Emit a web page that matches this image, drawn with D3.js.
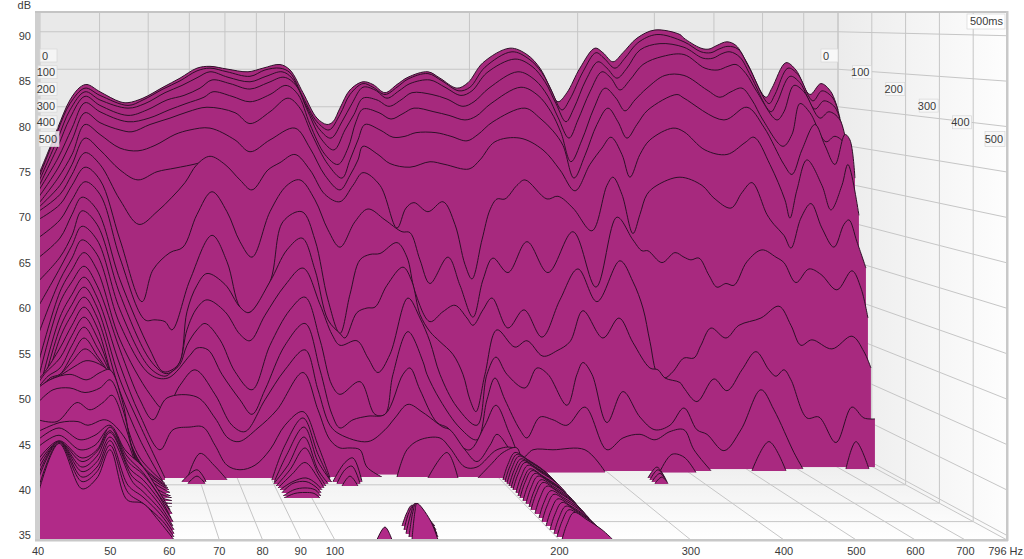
<!DOCTYPE html>
<html><head><meta charset="utf-8">
<script src="https://cdnjs.cloudflare.com/ajax/libs/d3/7.8.5/d3.min.js"></script>
<style>html,body{margin:0;background:#fff}svg{display:block}text{font-family:"Liberation Sans",Arial,sans-serif;font-size:11px;fill:#3a3a3a}</style>
</head><body><svg id="c" width="1024" height="559"></svg>
<script>
const freqTicks=[40,50,60,70,80,90,100,200,300,400,500,600,700,796];
const freqLabels=["40","50","60","70","80","90","100","200","300","400","500","600","700","796 Hz"];
const dbTicks=[90,85,80,75,70,65,60,55,50,45,40,35];
const timeTicks=[0,100,200,300,400,500];
// each series: flat list of (frequency bin, level dB)
const s0=[0,75,2.4,78.2,4,80.4,6.4,83.4,8.4,84.8,9.8,85.1,12.4,84.3,16.4,83.2,18,83.1,21,83.6,25,84.8,28.4,85.8,31.8,86.9,34.4,87.1,37.8,86.8,42,86.5,45,86.9,48.4,87.3,50.4,86.7,53,84.2,55.8,81.4,57.8,80.7,59,81,60.4,82.5,62.4,84.5,65,85.4,67,85.1,69.4,84.2,71.8,85.1,74,85.9,78,86.5,80.4,85.8,83.8,84.7,86,85.3,89,87.5,94.4,89.1,97.8,88.4,100.4,86.9,102.4,84.8,104,83.2,105.8,84.2,108.4,86.9,111.4,89.1,113,88.6,115,87.6,117,88.6,119.8,90.2,123.4,91.1,128.4,90.6,129.2,90.2,132.6,89.1,134.2,89,135.8,89.4,137.8,89.8,139.6,89.4,141.8,87.5,145.6,83.7,146.8,84.7,149.6,87.5,151.6,86.7,154.4,84,156.6,85.2,158.6,84.3,160,82.3];
const s1=[0,74.6,4,80.1,6.4,83,9.4,84.7,12.4,83.9,18,82.8,21,83.4,25,84.6,28.4,85.5,31.8,86.6,34.4,86.9,37.8,86.5,42.4,86,45.4,86.7,48.4,86.9,50.4,86.4,53,83.7,55.8,81,58.2,80.1,60.4,81.8,62.4,84,65,85.2,67,84.8,69.4,84,71.8,84.8,74,85.7,78,86.3,80.8,85.5,84.2,84.4,86.4,84.8,89.4,87,94.8,88.7,98.2,87.9,100.8,86.4,102.8,84.3,104.8,82.3,106.4,83.5,109,86.5,111.6,88.6,113.2,88,115.4,86.9,117.4,88,120,89.7,123.8,90.6,129.2,89.8,132.6,88.7,134.6,88.6,136.2,89,138,89.3,140,89,142.2,87,146.2,83,147.4,84,150,86.9,152,86.2,155,83.3,156.8,84.4,159,83.6,160.4,81.4];
const s2=[0,74.2,4,79.2,6.4,82.3,9.4,84.3,12.4,83.4,18,82.5,21.4,83,25.4,84.2,28.8,85,32,85.9,34.4,86.5,38,85.9,42.4,85.4,45.6,86,48.8,86.5,50.8,85.8,53.4,83,56.4,80.1,58.6,79.2,60.8,81,62.8,83,65,84.8,67.4,84.5,69.8,83.6,72.2,84.4,74.4,85.2,78.4,85.6,81.4,84.8,84.6,83.9,86.8,84.4,89.8,86.4,95.4,87.9,98.8,87.1,101.4,85.4,103.6,83,105.6,81,107.2,82.5,109.6,85.6,112,87.6,113.8,86.9,115.8,85.8,117.8,86.9,120.4,88.9,124.4,89.6,129.2,89.2,133,88,135,88,136.8,88.5,138.4,88.7,140.4,88.1,142.6,86,146.6,82.1,147.8,83.1,150.4,86,152.4,85.3,155.4,82.4,157.2,83.3,159.4,82.6,161,80.1];
const s3=[0,73.7,4,78.3,6.4,81.4,9.4,83.8,12.4,82.8,18,81.7,21.8,82.3,25.8,83.4,29.2,83.9,32.4,84.7,34.8,85.6,38.4,85.2,42.4,84.6,46,85.3,49.2,85.9,51.6,85,54,82.1,56.8,79,59.2,77.9,61.4,80.1,63.2,81.8,65,83.6,67.8,83.4,70.2,82.7,72.6,83.4,74.8,84.2,78.8,84,81.8,83.5,85,82.7,87.2,83.2,90.2,84.7,96,86.5,99.4,85.6,102,83.8,104,81.5,106.2,79.2,108,81.2,110.4,84.3,112.8,86.5,114.6,85.8,116.4,84.5,118.4,85.6,121,87.3,125,88.2,129.2,88.4,133.4,86.9,136,86.7,138,87.1,139.6,87.3,141.6,86.3,143.8,84.3,147.8,81.2,149.2,82.1,151.2,85,153.2,84.3,156.4,81.4,158.2,82.1,160.4,81.2,162,77.4];
const s4=[0,73.3,4,77,6.8,80.3,9.4,83.1,12.4,82.1,18,81,22.2,81.4,26.2,82.3,29.6,83,33.2,83.7,35,84.3,38.8,83.8,42.4,83.2,46.4,84,49.6,85,52,84,54.4,80.7,57.4,77.4,60,76.3,62,78.1,63.6,81,65,82.4,68.2,82,70.6,81.3,73,81.9,75.2,82.5,79.2,82.1,82.2,81.7,85.4,81.2,87.6,81.6,90.6,83,96.6,84.8,100,83.9,102.6,82.1,104.6,79.8,106.6,76.6,108.8,79,111.2,82.5,113.4,84.7,115.6,83.6,117.4,82.2,119.4,83.4,121.8,84.7,125.4,86.1,129.2,86.1,133.8,84.5,136.4,83.7,138.6,84.3,140.8,84.7,142.8,83.4,145,81.2,149,78.3,150.8,79.6,152.4,83,154.4,82,157.6,78.8,159.4,79.4,161.6,78.4,162.8,75.5];
const s5=[0,72.6,4,75.9,6.8,79,9.4,82,12.4,80.9,16.4,80.1,18.8,79.9,22.4,80.7,26.4,81.4,30,82.1,33.8,82.6,39.4,82,42.4,80.8,46.4,82.1,50,83.6,52.4,82.5,54.8,79.6,58,76.3,60.8,74.8,62.4,76.8,64,79,65.4,80.7,68.4,80.1,71,79.3,73.4,79.4,75.6,79.8,79.6,79.8,82.6,79.4,85.8,78.9,88,79.6,91,81,97.4,82.5,100.4,81.4,103,80,105,78.4,107.2,74.8,109.4,77.3,111.8,80.7,114,82.5,116,81,117.8,79.2,119.8,80.7,122,82.3,127.8,84,129.2,83.6,137.2,81.2,141.8,82.6,145.2,80.4,149.2,76.3,150.8,75.2,152.8,77.9,155.4,80.7,157.4,78.4,159.4,76.3,161.4,79.6,162.4,79,163.4,74.8];
const s6=[0,71.9,4,74.8,6.8,77.4,9.4,80.7,12.4,79.6,16.4,78.1,20,77.8,23.4,78.4,27.4,79.6,30.4,80.1,34.4,80.3,39.4,79,42.4,77.7,46.4,79,51.4,80.3,54.4,78.1,57.4,75.1,60.4,73.5,62.4,75.1,64,76.8,65,78.3,68,77.4,70.4,76.4,74.4,76,78.4,76.6,81.4,76.3,86.2,75.8,88.4,76.8,91.4,78.8,96.4,79.2,101,77.9,104.4,75.7,107.4,73.4,110.4,76.3,112.8,78.1,114.6,79.3,116.8,77.4,118.4,74.9,120.4,77.4,122.4,79,127,80.3,129.2,79.9,133.4,77.9,137.8,77.4,141.4,78.7,143.2,79.3,146.4,76.3,149.4,72.4,150.4,70.4,151.8,73.5,153.8,76.8,156.8,74,158.6,71.3,160.8,74,162,76.3,164.2,70.7];
const s7=[0,71.5,4.4,74,6.8,76.3,9.4,79.2,12.4,77.9,16.4,75.7,20,74.6,23.8,75.5,27.4,75.9,31.8,76.4,34,76.8];
const s8=[0,71.1,4.4,73,6.8,75.2,9.4,77.6,12.4,76.3,16.4,72.4,20.2,69.7,23.8,71.1,26.8,72.7,29.4,74.3,31.8,76.3,34.4,77.2,37.4,76.3,40.4,74.6,42.8,73.5,46,75.7,48.4,76.5,51.4,77.4,54.4,75.7,57.4,73,60.4,72.2,63,74,65,75.4,68.4,74,71.8,69.3,73.6,71.5,75.2,72.1,78,71.1,81,72.2,83.4,69.7,85.4,65.3,86.8,63.7,88.8,68,90.4,71.3,91.8,72.5,93.4,72.5,95.8,74,97.4,74.6,101.8,72.5,104,72.8,107,71.5,110.8,69,113.8,74,115,74.9,116.8,73,119,68.7,120.4,70.8,121.8,73,123.8,74,128.4,74.9,132.8,74,135.2,72.6,138.6,71.5,140.8,73.2,142.8,74.3,145.8,70.8,147.2,69.7,149.2,68.5,150.6,67.1,152.6,70.4,154.6,72,156.8,69.3,159.2,67.2,161.2,69.7,162.2,70.2,163.8,67.8,165.6,64.9];
const s9=[0,70.2,4.4,71.9,6.8,74,9.4,76,12.4,74.6,16.4,68,20.8,61.2,23,64.7,26.4,66.6,29,67.2,31.8,70.8,34.8,73.3,37.8,71.1,40.4,67.8,42.8,66.1,46.4,71.1,49.8,74,52.4,74.6,55.4,72.4,58,69.1,60.4,67.2,63.4,70,66,71.4,69.4,70.2,72.8,68.9,74.4,68.8,76.4,65.8,78.4,63.2,82,66.1,84.4,63,87,59.5,89,63.6,91,66,94,64.4,97.8,67.8,102,64.4,107,68.9,111.6,62.8,115.8,70.5,119,68,120.8,66.8,122,66.8,124.8,65.5,127.4,66.6,129.2,66.1,130.6,65.8,132.2,66,134.2,64.1,135.8,62.8,137.6,63.2,139.2,63,141.8,65.6,144.8,66.9,147.6,66.1,149.2,65.5,151.6,63.3,154.2,64.8,156.6,64.2,159.8,62.5,162.8,64.6,164.6,62.7,166,59.4];
const s10=[0,68.2,4.4,70.2,6.8,72.4,9.4,74.4,12.4,73,16.4,66,21.4,59.2,23.4,59.2,25.4,59,26.8,58.1,30.4,63.6,34.8,68.5,37.8,65.6,40.4,60.6,42.2,60,46.4,63.4,49,70,52.8,71.1,55.4,68,58,61.4,60.4,57.7,62.4,62,64.4,65.8,66.4,66.4,68.4,66.5,71.8,67.7,73.8,66.1,75.4,62.3,78.4,59,81,60.1,83.4,60.8,85.8,59.4,87,58.6,89,60.3,90.8,61.6,94,58.3,97.2,60.3,100.8,57.3,104.4,61.4,108,64.8,111.8,61.2,116.4,65.7,119,63.4,121,60.5,122.4,56.8,124,53.1,125.4,52.8,127,53.5,129.2,55,131.2,55,132.6,56.4,134.6,58.3,137.6,57.2,140.2,58.6,144.6,59.4,148.2,60.7,150.6,58.6,152.6,56.4,154.8,57,158.8,56,162.8,57.4,165.2,55.7,166.6,53.9];
const s11=[0,66,4.4,68.2,6.8,70.8,8.8,72.7,11.8,71.3,16.4,63.6,22.4,55.9,25,53.5,26.8,53.7,28.4,54.6,29.8,60.1,31.8,63,33.8,64.3,37.4,63.1,40.4,60.6,42.2,60,46.4,63.4,49.8,66.9,52.8,68.2,55.4,64.7,58,59.2,60.4,57.7,61.4,57.2,63.8,60,65.8,60.5,67.4,60.6,69.8,63,73,65,74.8,63.4,76.4,59.8,78.4,57.9,80.4,56.8,83,55.4,85,53.2,86.4,50.4,87.6,49.1,89.4,53.2,91.8,58.1,95.4,56.2,97.8,56.9,101,55.2,103.8,55.8,106.4,56.8,109,60.2,113,57.2,116.2,59.4,119,56.7,122.4,53.9,124,53.7,125.4,52.8,128.4,52.3,129.2,51.7,131.8,50.2,135.2,52.7,137.8,51.4,140.8,53.7,143.6,55.7,146.2,53.7,147.6,53,149.2,53.7,150.6,52.6,153.8,48.4,156.2,48.5,159.6,45.7,162.8,49.6,165.2,48.4,167.4,48.3];
const s12a=[0,63.4,4.4,66.1,6.8,68.5,8.8,71.2,11.8,69.7,16.4,62,22.4,54.8,25.4,53.3,26.8,53.5,28.4,54.6,29.8,58.1,31.8,60.5,33.8,61.4,37.4,60.1,40.4,57.6,42.4,56.9,45.4,59.7,49.4,63,53,64.9,56.4,60.9,58.8,57.6,60.4,56.4,63.8,56.9,66,55,68,53.4,70.4,55.4,74,61.6,76.4,59.4,78.4,56.8,80.4,53.2,83.8,49.6,87.8,47.6,89.8,53.2,91.6,55.1,93.8,53.2,97.4,51.7,99.8,53.9,102,53.2,105.8,49.8,107.8,53.2,109,54.5,110.8,53.2,113.8,47.9,117,51.3,120.4,48.5,123.4,47.1,126.4,47.6,129.2,49.5,131.8,47.1,133.8,46.6,137.2,44.8,140.6,47.1,144.6,51.5,147.2,49.3,151.2,44.6,153,42.8];
const s12b=[161.6,42.8,163.6,45.8,166.2,42.8];
const s13a=[0,60.6,4.4,64.9,6.8,67.4,8.8,69.5,11.8,68,16.4,60.3,22.4,53.9,25.4,53,26.8,53.5,28.4,54.3,29.8,56.4,31.8,58.1,33.4,58.8,36.4,57,39.4,53.5,42.8,51.5,46.4,56.4,50.4,60.3,53.4,61.7,56.4,57,58.8,52,60.4,51,64.4,52.4,67.4,48.8,69.4,48.8,71,53.2,74,57.9,77,54.6,77.8,53.2,80.4,50.4,84.4,47.3,87.8,46,89.8,50.4,91.4,52.8,93.4,50.4,96.4,47.1,97.8,46.2,100.4,48.5,103,48.2,105.8,47.6,109.4,49.6,113.8,44.9,117,46.2,120.4,46.6,123.4,46,126.4,46.9,129.2,47.1,131.2,44.9,134.6,42.6];
const s13b=[142.8,42.6,146.2,45.8,149.6,42.6];
const s14a=[0,57.5,4.4,63.6,6.8,66,8.8,68,11.8,66.4,16.4,58.7,22.4,53.2,26,52.8,30.4,55.3,31.8,56.1,34,55.9,36.8,53.2,40.4,50.4,42.8,48.8,45.4,51.5,49.4,56.4,53.4,58.8,56.4,53.7,58.8,48.8,60.4,47.3,63,48.2,66,48.6,69.4,48.8,73,53.2,74.4,53.9,76.4,51.5,79.8,47.9,82,47.3,84.4,45.4,86.4,44.9,89.4,47.6,91.6,49.8,94.4,46.6,96.8,44,99,44.9,103,44.9,109.4,44.9,113.4,42.5];
const s14b=[124.4,42.5,126.8,44.4,129.2,44.1,131.6,42.4];
const s15=[0,54.3,4.4,62.3,6.8,64.7,9.2,66.6,11.8,64.7,16.4,57,22.4,51,25.4,49.3,28.4,52,31.4,53.7,35.4,51,38.8,47.6,41.4,46.9,45.4,50.4,49.4,53.7,53.4,55.9,56,51.5,58.4,47.6,60.4,46.6,66,45.8,69.4,47.1,71.4,48.4,74,49.9,77,49,81,47.4,82.4,47.1,85.4,44.9,87.8,43.6,90.4,45.4,91.8,46.6,94.4,44.9,98,42.3];
const s16a=[0,52.6,4.4,61.1,6.8,63.4,9.2,65.1,11.8,63,16.4,55.9,20.4,50.4,23,48.2,25.8,50.6,31.8,50.7,35.4,48.4,38,46.2,40.2,45.8,44,47.3,47.8,49.3,53,53.4,56,49.3,58.4,46,60.4,45.1,62.4,45.1,64.4,44.9,65.8,43,68.8,41.9];
const s16b=[71.8,41.9,73.8,44.9,76.4,46,80.4,46.2,82.4,45.1,85.4,43,87.8,43,91.8,44.9,95,45.1,96.8,43.6,97.8,41.9];
const s17a=[0,50.9,4.4,59.5,6.8,62,9.2,63.9,11.8,61.7,16.4,54.2,20.4,48.7,24.4,44.9,27,47.1,30.4,47.4,33,47.4,35.4,45.4,37.8,43.2,40.4,42.7,43.4,43.2,46.4,44.9,49.4,47.6,53,49.1,56,45.4,58.4,41.8];
const s17b=[78,41.8,81.8,44.6,84,41.8];
const s17c=[88,41.8,90.8,43.4,93,44.6,95.8,45.1,97,41.8];
const s17d=[122,41.8,123.8,43,125.4,41.8];
const s18a=[0,49.8,4.4,58.3,6.8,60.9,9.2,62.8,11.8,60.6,16.4,52.6,20.4,47.6,25.4,41.8];
const s18b=[29.8,41.6,32.4,44.5,35.2,43.2,37.8,41.6];
const s18c=[46.8,41.6,49.4,45.4,53,48.4,56,44.4,58.4,41.6];
const s18d=[93,41.6,94,43.3,95.4,44.6,98,43.8,101,42.7,103,41.6];
const s18e=[122.4,41.6,124,42.7,125.6,41.6];
const s19a=[0,49,4.4,57.2,6.8,59.8,9.2,61.7,11.8,59.5,16.4,51.3,20.4,46,25,41.4];
const s19b=[28.8,41.4,31.8,42.7,33.6,41.4];
const s19c=[47.2,41.3,49.8,44.4,53.2,47.4,56,43.6,58.8,41.3];
const s19d=[59,41.4,61.4,43.5,63,44,64.8,41.4];
const s19e=[93.4,41.4,94.4,43.1,95.8,44.4,98.4,43.6,101.4,42.5,103.4,41.4];
const s19f=[122.8,41.4,124.4,42.3,125.8,41.4];
const s20a=[0,52.6,1.4,53.5,4.4,56.1,6.8,58.6,9.2,60.6,11.8,58.4,14.4,53.7,17.4,48.2,20.4,44,25.4,41.2];
const s20b=[30,41.2,31.8,42,33.4,41.2];
const s20c=[47.2,41.2,50,43.2,53.2,46.3,56,42.7,58,41.2];
const s20d=[59.8,41.2,61.4,42.7,62.8,43.1,64.4,41.2];
const s20e=[93.8,41.2,94.8,42.9,96.2,44.2,98.8,43.4,101.8,42.3,103.8,41.2];
const s20f=[123.4,41.2,124.8,41.9,126,41.2];
const s21a=[0,52.2,1.4,53.3,4.4,55,6.8,57.5,9.2,59.5,11.8,57.3,14.4,53.5,17.4,47.3,20.8,43.2,25.8,40.9];
const s21c=[47.6,40.9,50.4,42.7,53.4,45.1,56,42.3,57.6,40.9];
const s21d=[60.8,40.9,62.4,42,64,40.9];
const s21e=[94.2,40.9,95.2,42.6,96.6,43.9,99.2,43.1,102.2,42,104.2,40.9];
const s22a=[0,51.7,2,53,4.4,53.9,6.8,56.4,9.2,58.4,11.8,56.2,14.4,53.3,17.8,46.5,21.4,42.7,26,40.7];
const s22c=[48,40.7,50.8,42.2,53.4,43.5,56,41.8,57.2,40.7];
const s22e=[94.6,40.7,95.6,42.4,97,43.7,99.6,42.9,102.6,41.8,104.6,40.7];
const s23a=[0,51.3,2,52.6,4.4,53.2,6.8,55.3,9.2,57.2,11.8,55.3,14.4,53,18.2,45.8,22,42.1,26.2,40.5];
const s23c=[48.4,40.5,51,41.4,53.6,41.8,55.6,41.2,56.8,40.5];
const s23e=[95,40.5,96,42.2,97.4,43.5,100,42.7,103,41.6,105,40.5];
const s24a=[0,50.8,2.4,52.8,4.4,53.2,6.8,54.6,9.4,56,12,54.8,14.4,52.8,18.6,45.1,22.4,41.6,26.4,40.2];
const s24c=[48.8,40.2,51,41.2,53.6,41.4,55.6,40.8,56.6,40.2];
const s24e=[95.6,40.2,96.6,41.9,98,43.2,100.6,42.4,103.6,41.3,105.6,40.2];
const s25a=[0,51,2.4,52.6,4.8,53.2,7.4,54.1,9.6,54.7,12,54.4,14.4,53.3,19,44.5,22.8,41,26.6,39.8];
const s25c=[49,39.8,51.2,40.5,53.4,40.7,55.4,40.5,56.6,39.8];
const s25e=[96,39.8,97,41.5,98.4,42.8,101,42,104,40.9,106,39.8];
const s26a=[0,51.7,2.4,52.6,6.4,53.2,9.8,52.6,12.4,53.4,14.4,53.7,16.8,50.4,19.4,43.8,23,40.5,26.8,39.6];
const s26c=[49.2,39.6,51.4,40.1,53.4,40.2,55.2,40.1,56.4,39.6];
const s26e=[96.4,39.6,97.4,41.3,98.8,42.6,101.4,41.8,104.4,40.7,106.4,39.6];
const s27a=[0,50.1,3,51.5,6.4,51.7,9.4,51.2,12.4,51.7,14.4,52.6,17,49.3,19.8,43.2,23.4,40,26.8,39.3];
const s27e=[97,39.3,98,41,99.4,42.3,102,41.5,105,40.4,107,39.3];
const s28a=[0,48.2,3.8,48,7.8,50.1,10.4,49.3,13,50.1,14.8,50.9,17.4,47.6,20.2,42.7,23.8,39.4,26.8,39];
const s28e=[97.6,39,98.6,40.7,100,42,102.6,41.2,105.6,40.1,107.6,39];
const s29a=[0,46.9,4.4,47.9,8,48,10,47.6,13,48.2,14.4,48,17.6,46,20.4,42.2,24,38.9,26.8,38.6];
const s29e=[98.2,38.6,99.2,40.3,100.6,41.6,103.2,40.8,106.2,39.7,108.2,38.6];
const s30a=[0,46,4.2,47.3,8.4,46,11.4,46.5,14.4,47.6,17.4,44.9,21,43,24,40.5,26.4,38.3];
const s30e=[98.6,38.3,99.6,40,101,41.3,103.6,40.5,106.6,39.4,108.6,38.3];
const s31a=[0,45.2,4.2,46.5,8.4,44.9,11.4,45.4,14.4,47.3,17.8,44.2,21,42.4,24.2,39.9,26.8,37.9];
const s31e=[99.4,37.9,100.4,39.6,101.8,40.9,104.4,40.1,107.4,39,109.4,37.9];
const s32a=[0,43.8,4.2,45.9,8.8,44,11.8,44.9,14.4,47.4,18,43.6,21,42.2,24,40,26.6,37.4];
const s32e=[100.2,37.4,101.2,39.1,102.6,40.4,105.2,39.6,108.2,38.5,110.2,37.4];
const s33a=[0,43.3,4.2,45.8,8.8,43.6,11.8,44.7,14.4,47,18.4,42.8,21,41.6,24.2,39.4,27,37];
const s33e=[100.8,37,101.8,38.7,103.2,40,105.8,39.2,108.8,38.1,110.8,37];
const s34a=[0,42.7,4.2,45.8,8.8,43,11.8,44.2,14.4,46.8,18.8,42,21,41,24.4,38.8,27,36.5];
const s34b=[72.8,36.5,73.8,38,74.8,38.8,77.4,37.7,79.4,36.5];
const s34e=[101.6,36.5,102.6,38.2,104,39.5,106.6,38.7,109.6,37.6,111.6,36.5];
const s35a=[0,42.1,4.2,45.8,8.8,42.5,11.8,43.6,14.4,46.3,19,41.3,21,40.3,24.6,38.2,27.2,36.1];
const s35b=[73.2,36.1,74.2,38,75.2,38.8,77.8,37.5,79.6,36.1];
const s35e=[102.4,36.1,103.4,37.8,104.8,39.1,107.4,38.3,110.4,37.2,112.4,36.1];
const s36a=[0,41.6,4.2,45.8,8.8,41.9,11.8,43,14.4,45.9,18,41,21,39.7,24.8,37.6,27.2,35.7];
const s36b=[73.6,35.7,74.6,37.9,75.4,39,78,37.4,79.8,35.7];
const s36e=[103.2,35.7,104.2,37.4,105.6,38.7,108.2,37.9,111.2,36.8,113.2,35.7];
const s37a=[0,40.5,4.2,45.7,8.8,41.4,11.8,42.5,14.4,45.4,18,40.2,21,39,25,37,27.2,35.3];
const s37b=[74.2,35.3,75,38.1,75.6,39,78.2,37.2,80,35.3];
const s37e=[103.8,35.3,104.8,37,106.2,38.3,108.8,37.5,111.8,36.4,113.8,35.3];
const s38a=[0,40,4.2,45.6,8.8,40.6,11.8,41.8,14.4,44.9,17.8,39.4,21,39,24,37.2,27.2,35];
const s38b=[74.8,35,75.4,38.1,75.8,39,78.4,37.2,80,35];
const s38c=[67.8,35,69.4,36.4,70.8,35];
const s38e=[104.8,35,105.8,36.7,107.2,38,109.8,37.2,112.8,36.1,115,35];
const sliceTimes=[0,6,12,18,24,30,42,48,54,70,88,105,115,125,135,145,158,163,174,185,196,207,217,228,245,261,272,288,304,321,337,359,380,402,424,446,467,484,500];
const sliceParts=[[s0],[s1],[s2],[s3],[s4],[s5],[s6],[s7],[s8],[s9],[s10],[s11],[s12a,s12b],[s13a,s13b],[s14a,s14b],[s15],[s16a,s16b],[s17a,s17b,s17c,s17d],[s18a,s18b,s18c,s18d,s18e],[s19a,s19b,s19c,s19d,s19e,s19f],[s20a,s20b,s20c,s20d,s20e,s20f],[s21a,s21c,s21d,s21e],[s22a,s22c,s22e],[s23a,s23c,s23e],[s24a,s24c,s24e],[s25a,s25c,s25e],[s26a,s26c,s26e],[s27a,s27e],[s28a,s28e],[s29a,s29e],[s30a,s30e],[s31a,s31e],[s32a,s32e],[s33a,s33e],[s34a,s34b,s34e],[s35a,s35b,s35e],[s36a,s36b,s36e],[s37a,s37b,s37e],[s38a,s38b,s38c,s38e]];

const L=38,R=1007,T=13,B=540,backR=838,backB=448,backL=40;
const x=d3.scaleLog().domain([40,796]).range([L,R]);
const y=d3.scaleLinear().domain([34.5,92.5]).range([B,T]);
const k=(backR-backL)/(R-L), ky=(backB-T)/(B-T);
const READ_BIAS=0.47;
const binHz=b=>40*Math.pow(2,b/44.92);
const tFrac=d3.scaleLinear().domain([0,500]).range([0,1]);
const rightAt=t=>backR+(R-backR)*tFrac(t);
const floorAt=t=>backB+(B-backB)*tFrac(t);
const backX=f=>backL+k*(x(f)-L);
const backY=d=>T+ky*(y(d)-T);

const svg=d3.select("#c");
const defs=svg.append("defs");
function grad(id,x2,y2,stops){const g=defs.append("linearGradient").attr("id",id).attr("x1",0).attr("y1",0).attr("x2",x2).attr("y2",y2);
 stops.forEach(s=>g.append("stop").attr("offset",s[0]).attr("stop-color",s[1]));}
grad("wall",1,0,[[0,"#ececec"],[1,"#fdfdfd"]]);
grad("floor",0,1,[[0,"#ebebeb"],[1,"#ffffff"]]);
const poly=(p,f)=>svg.append("polygon").attr("points",p.map(q=>q.join(",")).join(" ")).attr("fill",f);
poly([[backL,T],[backR,T],[backR,backB],[backL,backB]],"#e9e9e9");
poly([[backR,T],[R,T],[R,B],[backR,backB]],"url(#wall)");
poly([[backL,backB],[backR,backB],[R,B],[L,B]],"url(#floor)");
const grid=svg.append("g").attr("stroke","#c6c6c6").attr("stroke-width",1).attr("fill","none");
const seg=(a,b,c,d)=>grid.append("line").attr("x1",a).attr("y1",b).attr("x2",c).attr("y2",d);
freqTicks.forEach(f=>{seg(backX(f),T,backX(f),backB);seg(backX(f),backB,x(f),B);});
dbTicks.forEach(d=>{seg(backL,backY(d),backR,backY(d));seg(backR,backY(d),R,y(d));});
timeTicks.forEach(t=>{seg(L,floorAt(t),rightAt(t),floorAt(t));seg(rightAt(t),T,rightAt(t),floorAt(t));});

const px=b=>x(binHz(b)), py=v=>y(v-READ_BIAS);
const pts=a=>d3.range(0,a.length,2).map(i=>[a[i],a[i+1]]);
const fillAt=d3.scaleLinear().domain([0,500]).range(["#a6297d","#b12a88"]);
const curve=d3.curveCatmullRom.alpha(0.5);
const marks=svg.append("g");
sliceTimes.forEach((t,i)=>{
  const fl=floorAt(t);
  const clip="cl"+i;
  defs.append("clipPath").attr("id",clip).append("rect").attr("x",0).attr("y",0).attr("width",1024).attr("height",fl);
  const area=d3.area().x(d=>px(d[0])).y0(fl).y1(d=>py(d[1])).curve(curve);
  const line=d3.line().x(d=>px(d[0])).y(d=>py(d[1])).curve(curve);
  const g=marks.append("g").attr("clip-path",`url(#${clip})`);
  sliceParts[i].forEach(a=>{
    const p=pts(a);
    g.append("path").attr("d",area(p)).attr("fill",fillAt(t));
    g.append("path").attr("d",line(p)).attr("fill","none").attr("stroke","#2e1028").attr("stroke-width",1);
  });
});

// frame
svg.append("rect").attr("x",35).attr("y",13).attr("width",5).attr("height",527).attr("fill","#cfcfcf");
svg.append("rect").attr("x",35).attr("y",11).attr("width",973).attr("height",2).attr("fill","#c4c4c4");
svg.append("rect").attr("x",35).attr("y",539).attr("width",973).attr("height",2.5).attr("fill","#c8c8c8");
svg.append("rect").attr("x",1006).attr("y",11).attr("width",2.5).attr("height",530).attr("fill","#c8c8c8");

// axis labels
dbTicks.forEach(d=>svg.append("text").attr("x",31).attr("y",y(d)+4).attr("text-anchor","end").text(d));
svg.append("text").attr("x",31).attr("y",9).attr("text-anchor","end").text("dB");
freqTicks.forEach((f,i)=>{
  const t=svg.append("text").attr("y",555).attr("x",x(f)).attr("text-anchor","middle").text(freqLabels[i]);
  if(i===freqTicks.length-1)t.attr("x",1023).attr("text-anchor","end");
});
// time labels
const rowY=d3.scaleLinear().domain([0,500]).range([55.5,139]);
const boxR=d3.scaleLinear().domain([0,500]).range([838,1005]);
timeTicks.forEach(t=>{
  const w=t===0?17:(t===500?20:19);
  const h=t===500?15:13;
  [[57,0.82],[boxR(t),1]].forEach((s,j)=>{
    const bx=s[0]-w-(j===0&&t===500?-2:0);
    svg.append("rect").attr("x",bx).attr("y",rowY(t)-h/2).attr("width",w).attr("height",h).attr("fill","#f8f8f8").attr("fill-opacity",s[1]).attr("stroke","#d8d8d8").attr("stroke-width",.7);
    svg.append("text").attr("x",bx+(t===0?2:w-2)).attr("y",rowY(t)+4).attr("text-anchor",t===0?"start":"end").text(t);
  });
});
svg.append("rect").attr("x",967).attr("y",14).attr("width",38).attr("height",15).attr("fill","#fff").attr("stroke","#d8d8d8").attr("stroke-width",.7);
svg.append("text").attr("x",1003).attr("y",25).attr("text-anchor","end").text("500ms");
</script></body></html>
